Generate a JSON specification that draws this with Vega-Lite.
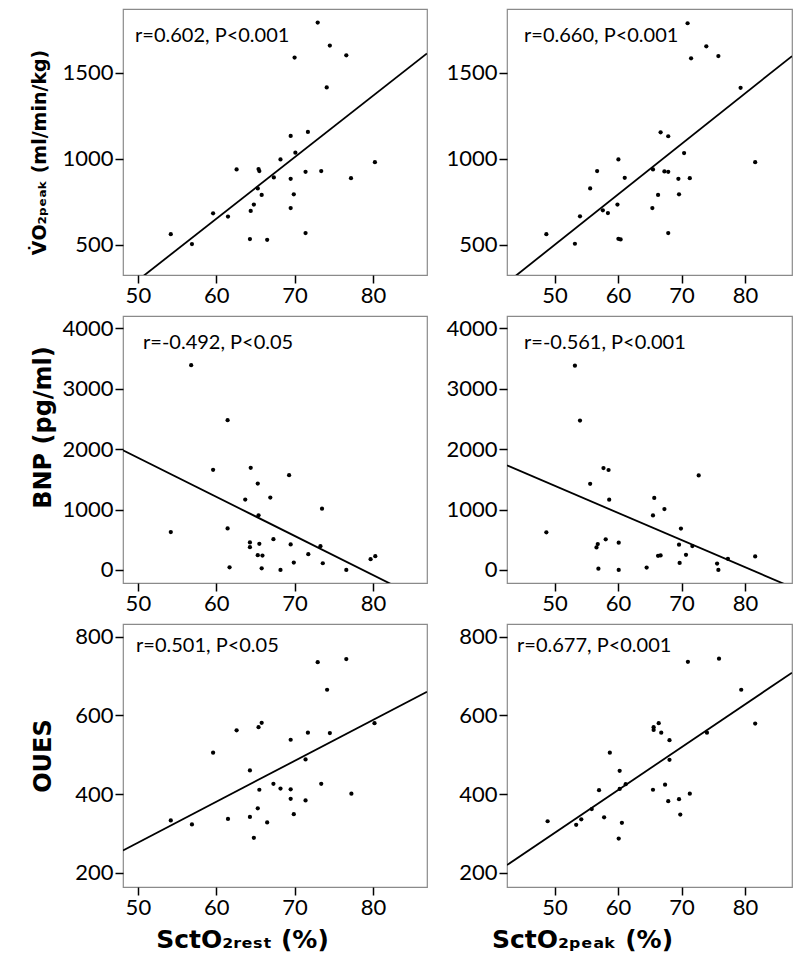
{
  "$schema": "https://vega.github.io/schema/vega-lite/v6.json",
  "description": "SctO2 at rest and at peak against VO2peak, BNP and OUES",
  "background": "white",
  "padding": {"left": 29, "top": 8, "right": 5, "bottom": 5},
  "columns": 2,
  "bounds": "flush",
  "align": "each",
  "spacing": {"row": 41, "column": 80},
  "config": {
    "font": "Lato",
    "view": {"stroke": "#8a8a8a", "strokeWidth": 1.2},
    "axis": {
      "domain": false, "grid": false,
      "tickColor": "black", "tickSize": 8, "tickWidth": 1.5,
      "labelFont": "Lato", "labelFontSize": 22, "labelColor": "black", "labelPadding": 2,
      "labelFlush": false, "labelOverlap": false, "format": "d",
      "titleFont": "DejaVu Sans", "titleFontWeight": "bold", "titleColor": "black"
    },
    "axisY": {"minExtent": 60, "maxExtent": 60},
    "title": {"anchor": "start", "orient": "top", "frame": "group", "offset": -37, "baseline": "bottom", "font": "Lato", "fontSize": 20, "fontWeight": "normal", "color": "black"}
  },
  "datasets": {
    "vo2_rest": [
      {"sct": 72.95, "value": 1793}, {"sct": 74.5, "value": 1659}, {"sct": 76.6, "value": 1602},
      {"sct": 70.0, "value": 1589}, {"sct": 74.1, "value": 1415}, {"sct": 71.7, "value": 1156},
      {"sct": 69.5, "value": 1133}, {"sct": 70.1, "value": 1035}, {"sct": 68.2, "value": 996},
      {"sct": 80.25, "value": 980}, {"sct": 62.6, "value": 938}, {"sct": 65.4, "value": 940},
      {"sct": 65.5, "value": 928}, {"sct": 71.4, "value": 924}, {"sct": 73.4, "value": 928},
      {"sct": 67.35, "value": 891}, {"sct": 69.5, "value": 883}, {"sct": 77.2, "value": 887},
      {"sct": 65.3, "value": 827}, {"sct": 65.8, "value": 789}, {"sct": 69.9, "value": 793},
      {"sct": 64.8, "value": 733}, {"sct": 64.4, "value": 696}, {"sct": 59.6, "value": 682},
      {"sct": 69.5, "value": 713}, {"sct": 61.5, "value": 663}, {"sct": 54.2, "value": 561},
      {"sct": 71.4, "value": 567}, {"sct": 56.9, "value": 503}, {"sct": 64.3, "value": 532},
      {"sct": 66.5, "value": 528}
    ],
    "vo2_peak": [
      {"sct": 70.95, "value": 1789}, {"sct": 73.9, "value": 1655}, {"sct": 75.8, "value": 1598},
      {"sct": 71.5, "value": 1585}, {"sct": 79.3, "value": 1413}, {"sct": 66.7, "value": 1154},
      {"sct": 67.9, "value": 1131}, {"sct": 70.4, "value": 1033}, {"sct": 60.05, "value": 996},
      {"sct": 81.6, "value": 980}, {"sct": 56.7, "value": 928}, {"sct": 65.5, "value": 938},
      {"sct": 67.3, "value": 926}, {"sct": 67.9, "value": 924}, {"sct": 61.05, "value": 889},
      {"sct": 69.5, "value": 883}, {"sct": 71.3, "value": 887}, {"sct": 55.6, "value": 827},
      {"sct": 66.3, "value": 789}, {"sct": 69.6, "value": 793}, {"sct": 59.9, "value": 733},
      {"sct": 57.6, "value": 700}, {"sct": 58.4, "value": 684}, {"sct": 65.4, "value": 713},
      {"sct": 54.0, "value": 665}, {"sct": 48.7, "value": 561}, {"sct": 67.9, "value": 567},
      {"sct": 53.2, "value": 505}, {"sct": 60.05, "value": 534}, {"sct": 60.4, "value": 530}
    ],
    "bnp_rest": [
      {"sct": 56.8, "value": 3390}, {"sct": 61.45, "value": 2480}, {"sct": 59.6, "value": 1659},
      {"sct": 64.4, "value": 1692}, {"sct": 69.3, "value": 1570}, {"sct": 65.3, "value": 1431},
      {"sct": 63.7, "value": 1165}, {"sct": 66.9, "value": 1198}, {"sct": 73.5, "value": 1015},
      {"sct": 65.4, "value": 904}, {"sct": 54.2, "value": 627}, {"sct": 61.45, "value": 688},
      {"sct": 64.3, "value": 455}, {"sct": 64.3, "value": 377}, {"sct": 65.5, "value": 433},
      {"sct": 67.3, "value": 510}, {"sct": 69.5, "value": 422}, {"sct": 73.3, "value": 394},
      {"sct": 65.3, "value": 244}, {"sct": 65.9, "value": 239}, {"sct": 71.75, "value": 261},
      {"sct": 69.9, "value": 122}, {"sct": 73.6, "value": 111}, {"sct": 79.7, "value": 178},
      {"sct": 80.3, "value": 227}, {"sct": 61.7, "value": 44}, {"sct": 65.8, "value": 28},
      {"sct": 68.2, "value": 0}, {"sct": 76.6, "value": 0}
    ],
    "bnp_peak": [
      {"sct": 53.2, "value": 3382}, {"sct": 54.0, "value": 2474}, {"sct": 57.7, "value": 1688},
      {"sct": 58.5, "value": 1655}, {"sct": 72.7, "value": 1565}, {"sct": 55.6, "value": 1426},
      {"sct": 58.6, "value": 1164}, {"sct": 65.7, "value": 1192}, {"sct": 67.3, "value": 1008},
      {"sct": 65.5, "value": 902}, {"sct": 48.7, "value": 624}, {"sct": 69.9, "value": 685},
      {"sct": 58.05, "value": 507}, {"sct": 56.8, "value": 429}, {"sct": 56.6, "value": 373},
      {"sct": 60.1, "value": 451}, {"sct": 69.6, "value": 418}, {"sct": 71.7, "value": 396},
      {"sct": 66.3, "value": 234}, {"sct": 66.7, "value": 240}, {"sct": 70.7, "value": 251},
      {"sct": 69.7, "value": 117}, {"sct": 75.6, "value": 106}, {"sct": 77.3, "value": 184},
      {"sct": 81.6, "value": 223}, {"sct": 56.9, "value": 22}, {"sct": 60.1, "value": 0},
      {"sct": 64.5, "value": 39}, {"sct": 75.8, "value": 0}
    ],
    "oues_rest": [
      {"sct": 76.6, "value": 743}, {"sct": 72.95, "value": 735}, {"sct": 74.15, "value": 665},
      {"sct": 65.8, "value": 581}, {"sct": 65.4, "value": 570}, {"sct": 80.2, "value": 580},
      {"sct": 62.6, "value": 562}, {"sct": 71.7, "value": 556}, {"sct": 74.5, "value": 555},
      {"sct": 69.5, "value": 538}, {"sct": 59.6, "value": 505}, {"sct": 71.4, "value": 488},
      {"sct": 64.3, "value": 460}, {"sct": 67.3, "value": 426}, {"sct": 73.4, "value": 426},
      {"sct": 65.5, "value": 411}, {"sct": 68.2, "value": 414}, {"sct": 69.5, "value": 412},
      {"sct": 77.25, "value": 401}, {"sct": 69.5, "value": 388}, {"sct": 71.4, "value": 384},
      {"sct": 65.3, "value": 364}, {"sct": 69.9, "value": 349}, {"sct": 54.2, "value": 333},
      {"sct": 61.5, "value": 337}, {"sct": 64.3, "value": 342}, {"sct": 56.9, "value": 323},
      {"sct": 66.5, "value": 328}, {"sct": 64.8, "value": 289}
    ],
    "oues_peak": [
      {"sct": 71.0, "value": 736}, {"sct": 75.9, "value": 744}, {"sct": 79.4, "value": 665},
      {"sct": 66.4, "value": 580}, {"sct": 65.6, "value": 570}, {"sct": 65.6, "value": 563},
      {"sct": 66.8, "value": 556}, {"sct": 81.6, "value": 579}, {"sct": 74.0, "value": 556},
      {"sct": 68.1, "value": 537}, {"sct": 58.7, "value": 505}, {"sct": 68.1, "value": 487},
      {"sct": 60.25, "value": 459}, {"sct": 61.2, "value": 425}, {"sct": 67.4, "value": 424},
      {"sct": 57.0, "value": 410}, {"sct": 60.25, "value": 413}, {"sct": 65.5, "value": 411},
      {"sct": 71.3, "value": 401}, {"sct": 69.6, "value": 387}, {"sct": 67.9, "value": 382},
      {"sct": 55.85, "value": 362}, {"sct": 69.8, "value": 348}, {"sct": 48.9, "value": 331},
      {"sct": 54.2, "value": 336}, {"sct": 57.8, "value": 341}, {"sct": 53.4, "value": 322},
      {"sct": 60.6, "value": 327}, {"sct": 60.1, "value": 287}
    ]
  },
  "concat": [
    {
      "title": {"text": "r=0.602, P<0.001", "dx": 12},
      "width": 304, "height": 266,
      "data": {"name": "vo2_rest"},
      "encoding": {
        "x": {"field": "sct", "type": "quantitative", "scale": {"domain": [48.1, 86.9], "nice": false, "zero": false}, "axis": {"values": [50, 60, 70, 80], "title": null}},
        "y": {"field": "value", "type": "quantitative", "scale": {"domain": [323, 1872], "nice": false, "zero": false}, "axis": {"values": [500, 1000, 1500], "title": "V\u0307O\u2082\u209a\u2091\u2090\u2096 (ml/min/kg)", "titleFontSize": 19, "titlePadding": 14, "titleY": 143}}
      },
      "layer": [
        {"mark": {"type": "circle", "color": "black", "size": 18, "opacity": 1}},
        {"transform": [{"regression": "value", "on": "sct", "extent": [48.1, 86.9]}], "mark": {"type": "line", "color": "black", "strokeWidth": 1.8, "clip": true}}
      ]
    },
    {
      "title": {"text": "r=0.660, P<0.001", "dx": 17},
      "width": 285, "height": 266,
      "data": {"name": "vo2_peak"},
      "encoding": {
        "x": {"field": "sct", "type": "quantitative", "scale": {"domain": [42.5, 87.4], "nice": false, "zero": false}, "axis": {"values": [50, 60, 70, 80], "title": null}},
        "y": {"field": "value", "type": "quantitative", "scale": {"domain": [323, 1872], "nice": false, "zero": false}, "axis": {"values": [500, 1000, 1500], "title": null}}
      },
      "layer": [
        {"mark": {"type": "circle", "color": "black", "size": 18, "opacity": 1}},
        {"transform": [{"regression": "value", "on": "sct", "extent": [42.5, 87.4]}], "mark": {"type": "line", "color": "black", "strokeWidth": 1.8, "clip": true}}
      ]
    },
    {
      "title": {"text": "r=-0.492, P<0.05", "dx": 20},
      "width": 304, "height": 267,
      "data": {"name": "bnp_rest"},
      "encoding": {
        "x": {"field": "sct", "type": "quantitative", "scale": {"domain": [48.1, 86.9], "nice": false, "zero": false}, "axis": {"values": [50, 60, 70, 80], "title": null}},
        "y": {"field": "value", "type": "quantitative", "scale": {"domain": [-216, 4205], "nice": false, "zero": false}, "axis": {"values": [0, 1000, 2000, 3000, 4000], "title": "BNP (pg/ml)", "titleFontSize": 24, "titlePadding": 8, "titleY": 111}}
      },
      "layer": [
        {"mark": {"type": "circle", "color": "black", "size": 18, "opacity": 1}},
        {"transform": [{"regression": "value", "on": "sct", "extent": [48.1, 86.9]}], "mark": {"type": "line", "color": "black", "strokeWidth": 1.8, "clip": true}}
      ]
    },
    {
      "title": {"text": "r=-0.561, P<0.001", "dx": 17},
      "width": 285, "height": 267,
      "data": {"name": "bnp_peak"},
      "encoding": {
        "x": {"field": "sct", "type": "quantitative", "scale": {"domain": [42.5, 87.4], "nice": false, "zero": false}, "axis": {"values": [50, 60, 70, 80], "title": null}},
        "y": {"field": "value", "type": "quantitative", "scale": {"domain": [-216, 4205], "nice": false, "zero": false}, "axis": {"values": [0, 1000, 2000, 3000, 4000], "title": null}}
      },
      "layer": [
        {"mark": {"type": "circle", "color": "black", "size": 18, "opacity": 1}},
        {"transform": [{"regression": "value", "on": "sct", "extent": [42.5, 87.4]}], "mark": {"type": "line", "color": "black", "strokeWidth": 1.8, "clip": true}}
      ]
    },
    {
      "title": {"text": "r=0.501, P<0.05", "dx": 13, "offset": -32},
      "width": 304, "height": 263,
      "data": {"name": "oues_rest"},
      "encoding": {
        "x": {"field": "sct", "type": "quantitative", "scale": {"domain": [48.1, 86.9], "nice": false, "zero": false}, "axis": {"values": [50, 60, 70, 80], "title": "SctO\u2082\u1d63\u2091\u209b\u209c (%)", "titleFontSize": 25, "titlePadding": 9, "titleX": 119, "titleAlign": "center"}},
        "y": {"field": "value", "type": "quantitative", "scale": {"domain": [164, 832], "nice": false, "zero": false}, "axis": {"values": [200, 400, 600, 800], "title": "OUES", "titleFontSize": 24, "titlePadding": 8}}
      },
      "layer": [
        {"mark": {"type": "circle", "color": "black", "size": 18, "opacity": 1}},
        {"transform": [{"regression": "value", "on": "sct", "extent": [48.1, 86.9]}], "mark": {"type": "line", "color": "black", "strokeWidth": 1.8, "clip": true}}
      ]
    },
    {
      "title": {"text": "r=0.677, P<0.001", "dx": 10, "offset": -32},
      "width": 285, "height": 263,
      "data": {"name": "oues_peak"},
      "encoding": {
        "x": {"field": "sct", "type": "quantitative", "scale": {"domain": [42.5, 87.4], "nice": false, "zero": false}, "axis": {"values": [50, 60, 70, 80], "title": "SctO\u2082\u209a\u2091\u2090\u2096 (%)", "titleFontSize": 25, "titlePadding": 9, "titleX": 75, "titleAlign": "center"}},
        "y": {"field": "value", "type": "quantitative", "scale": {"domain": [164, 832], "nice": false, "zero": false}, "axis": {"values": [200, 400, 600, 800], "title": null}}
      },
      "layer": [
        {"mark": {"type": "circle", "color": "black", "size": 18, "opacity": 1}},
        {"transform": [{"regression": "value", "on": "sct", "extent": [42.5, 87.4]}], "mark": {"type": "line", "color": "black", "strokeWidth": 1.8, "clip": true}}
      ]
    }
  ]
}
